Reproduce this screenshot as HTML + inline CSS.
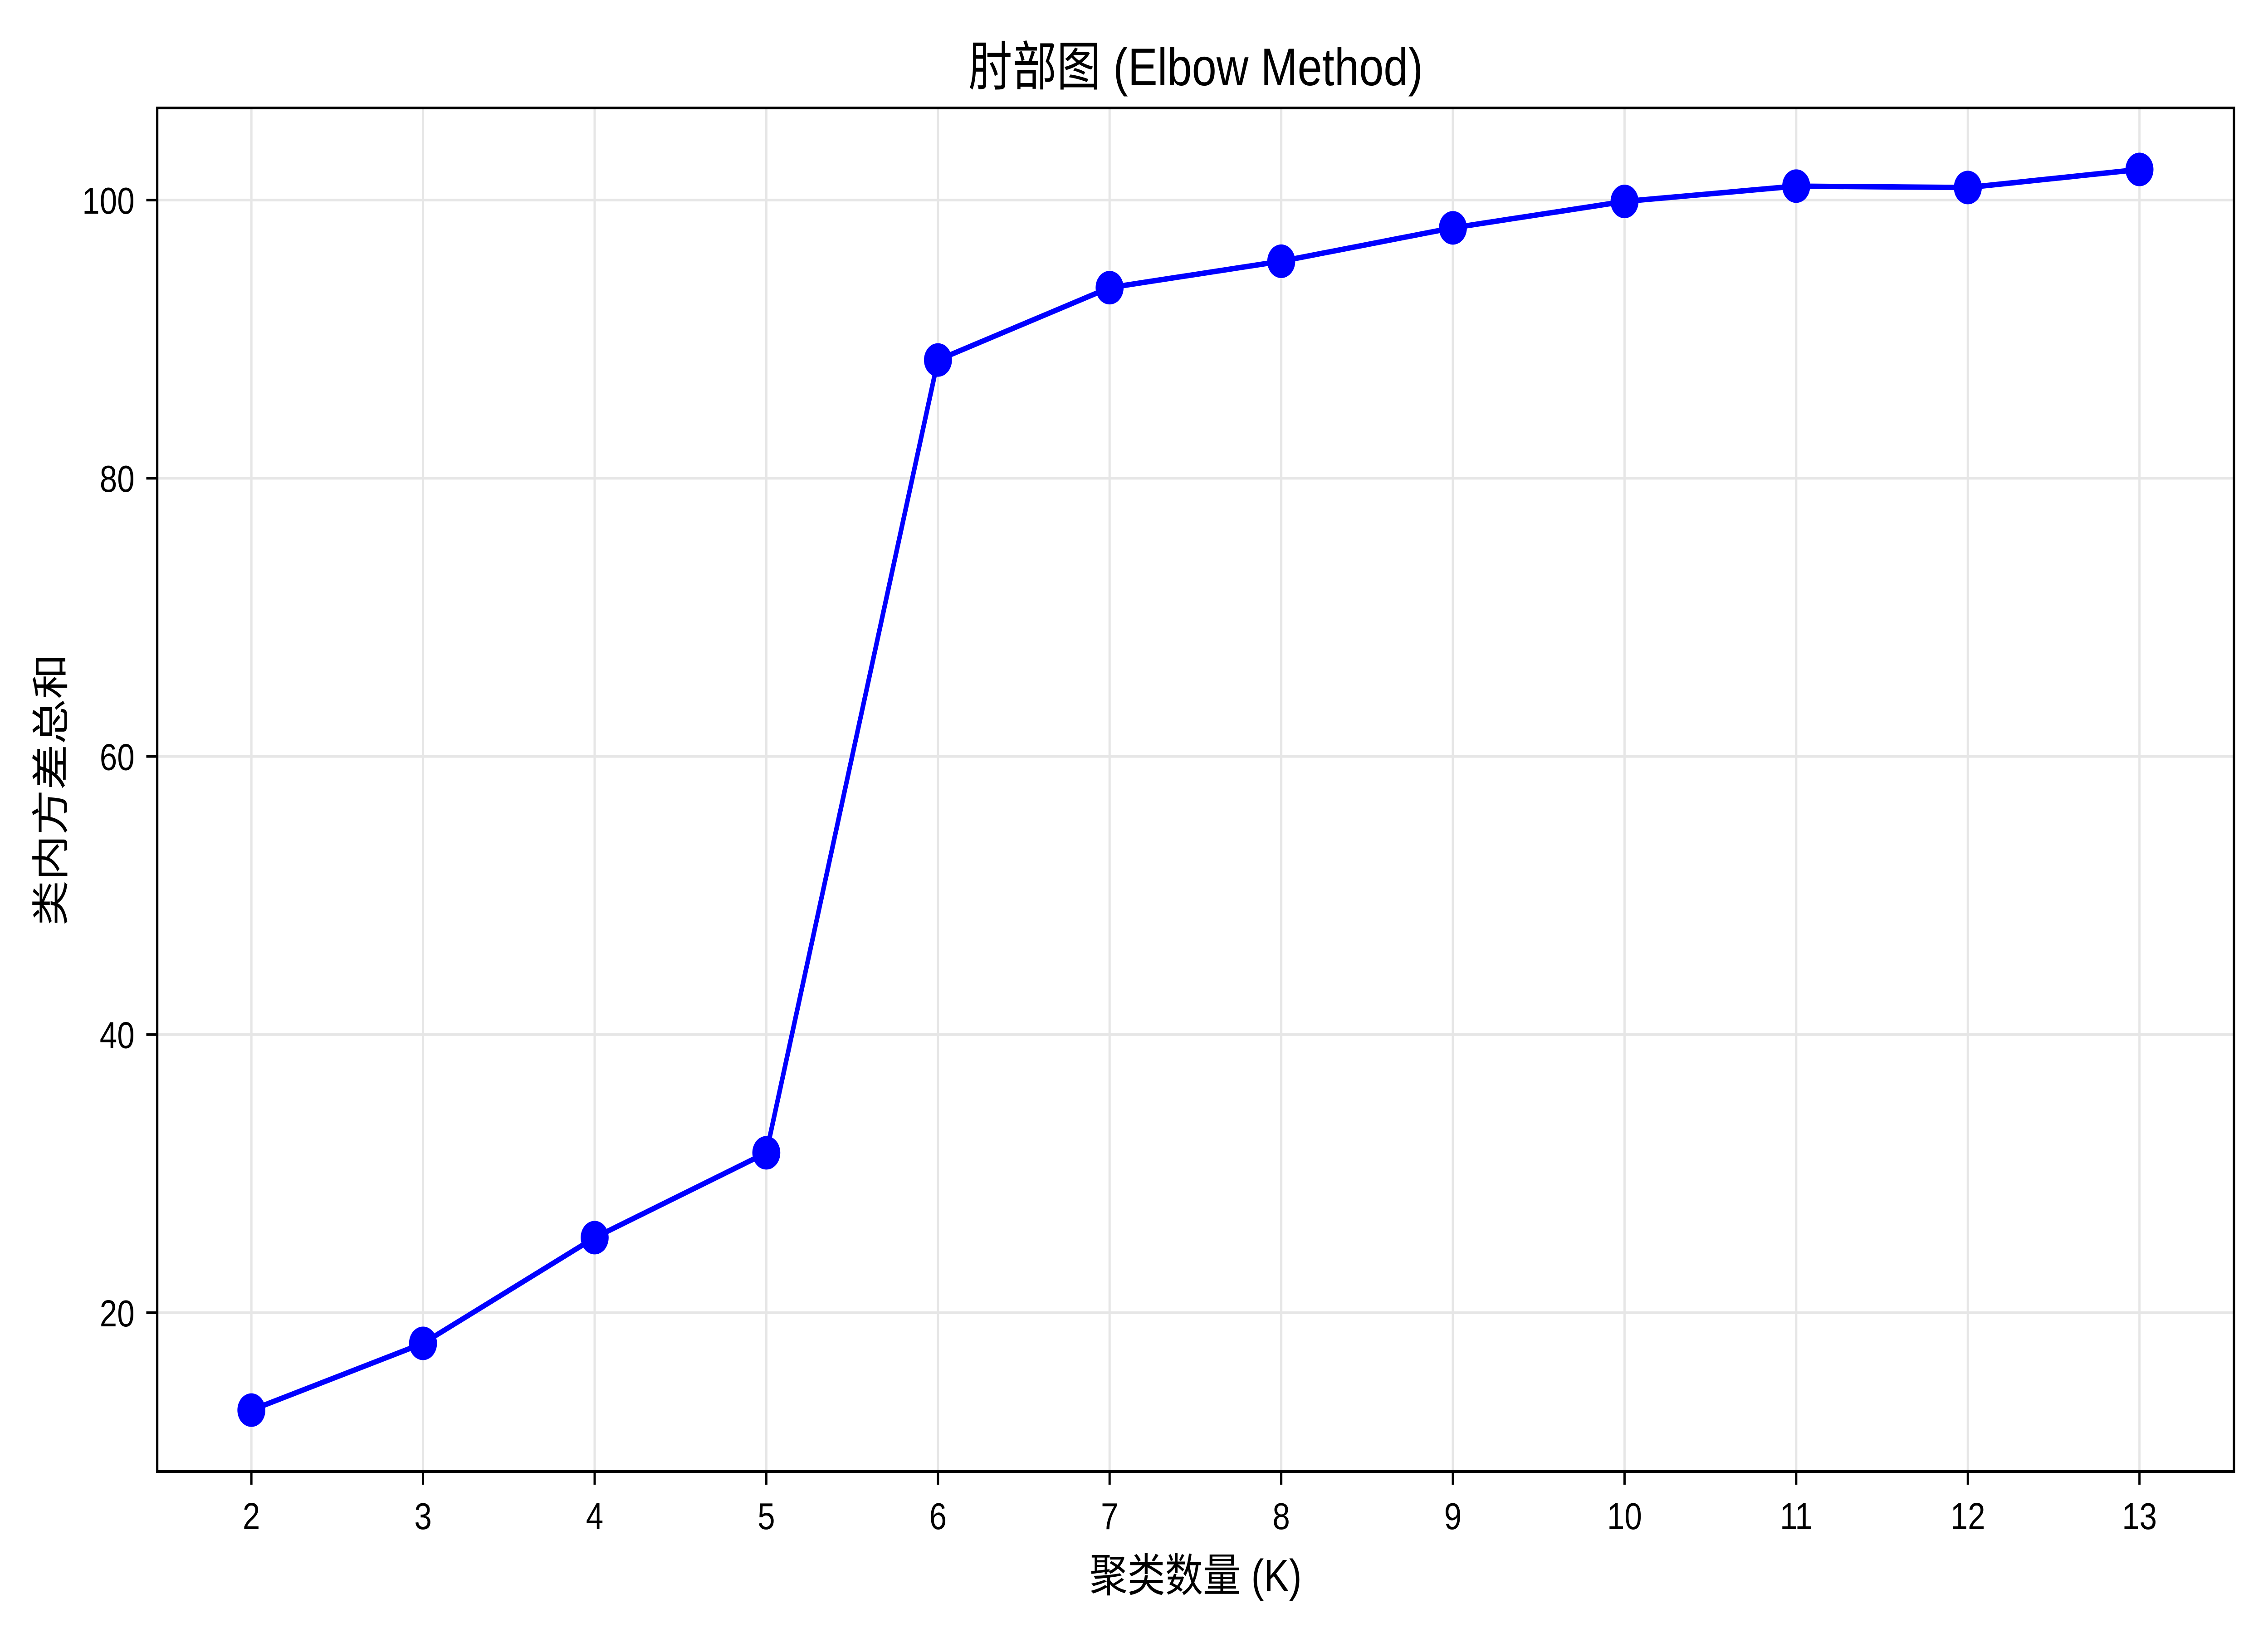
<!DOCTYPE html>
<html><head><meta charset="utf-8"><style>
html,body{margin:0;padding:0;background:#fff;overflow:hidden;width:100%;height:100%}
#chart{display:block;position:absolute;left:0;top:0;width:100vw;height:100vh}
svg text{font-family:"Liberation Sans","Noto Sans CJK SC",sans-serif;fill:#000}
</style></head><body>
<svg id="chart" viewBox="0 0 6000 3600" preserveAspectRatio="none" xmlns="http://www.w3.org/2000/svg">
<rect width="6000" height="3600" fill="#fff"/>
<g id="grid"></g>
<g id="ticks"></g>
<g id="series"></g>
<rect x="416" y="238" width="5494" height="3006" fill="none" stroke="#000" stroke-width="6"/>
<text x="3163" y="188" font-size="117" text-anchor="middle">肘部图 (Elbow Method)</text>
<text x="3163" y="3508" font-size="100" text-anchor="middle">聚类数量 (K)</text>
<text x="0" y="0" font-size="100" text-anchor="middle" transform="translate(170,1741) rotate(-90)">类内方差总和</text>
</svg>
<script>
const kValues=[2,3,4,5,6,7,8,9,10,11,12,13];
const wcss=[13.0,17.8,25.4,31.5,88.5,93.7,95.6,98.0,99.9,101.0,100.9,102.2];
const yTicks=[20,40,60,80,100];
const NS="http://www.w3.org/2000/svg";
const L=416,R=5910,T=238,B=3244;
function sx(v){return 665+(v-2)*(5660-665)/11;}
function sy(v){return 441+(100-v)*(2894-441)/80;}
function mk(tag,attrs,parent){const e=document.createElementNS(NS,tag);for(const k in attrs)e.setAttribute(k,attrs[k]);parent.appendChild(e);return e;}
const grid=document.getElementById('grid'),ticks=document.getElementById('ticks'),series=document.getElementById('series');
kValues.forEach(k=>{
  const x=sx(k);
  const g=mk('line',{x1:x,x2:x,y1:T,y2:B,stroke:'#e6e6e6','stroke-width':6},grid);
  
  
  const t=mk('line',{x1:x,x2:x,y1:B,y2:B+29,stroke:'#000','stroke-width':6},ticks);
  
  
  const lb=mk('text',{x:x,y:B+127,'font-size':83,'text-anchor':'middle'},ticks);
  lb.textContent=k;
  
  
});
yTicks.forEach(v=>{
  const y=sy(v);
  const g=mk('line',{x1:L,x2:R,y1:y,y2:y,stroke:'#e6e6e6','stroke-width':6},grid);
  
  
  const t=mk('line',{x1:L-29,x2:L,y1:y,y2:y,stroke:'#000','stroke-width':6},ticks);
  
  
  const lb=mk('text',{x:L-60,y:y+30,'font-size':83,'text-anchor':'end'},ticks);
  lb.textContent=v;
  
  
});
const pts=kValues.map((k,i)=>sx(k)+','+sy(wcss[i])).join(' ');
const line=mk('polyline',{points:pts,fill:'none',stroke:'#0000ff','stroke-width':12,'stroke-linejoin':'round'},series);


kValues.forEach((k,i)=>{
  const c=mk('circle',{cx:sx(k),cy:sy(wcss[i]),r:37,fill:'#0000ff'},series);
  
  
});
</script>
</body></html>
